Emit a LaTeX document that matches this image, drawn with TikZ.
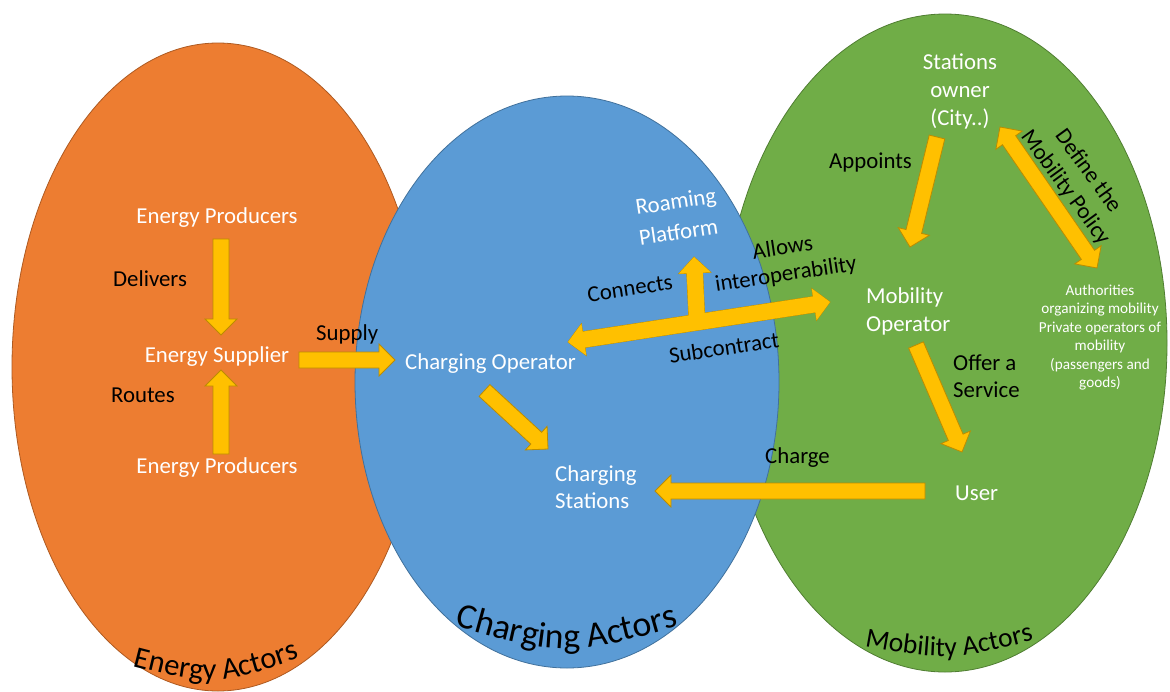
\documentclass[tikz,border=0pt]{standalone}
\usepackage{fontspec}
\setmainfont{Carlito}
\usetikzlibrary{calc,decorations.text}
\definecolor{eorange}{HTML}{ED7D31}
\definecolor{eorangeline}{HTML}{AE5A21}
\definecolor{cblue}{HTML}{5B9BD5}
\definecolor{cblueline}{HTML}{41719C}
\definecolor{mgreen}{HTML}{70AD47}
\definecolor{mgreenline}{HTML}{507E32}
\definecolor{afill}{HTML}{FFC000}
\definecolor{aline}{HTML}{BC8C00}
\newcommand{\mainsize}{\fontsize{22.8pt}{28pt}\selectfont}
\newcommand{\smallsize}{\fontsize{15.2pt}{18.5pt}\selectfont}
\newcommand{\eafont}{\fontsize{30.5pt}{30.5pt}\selectfont}
\newcommand{\cafont}{\fontsize{35.8pt}{35.8pt}\selectfont}
\newcommand{\mafont}{\fontsize{27.6pt}{27.6pt}\selectfont}
% single block arrow: [style]{name}{from}{to}
\newcommand{\sarr}[4][blockarrow]{%
  \coordinate (#2h) at ($(#4)!16pt!(#3)$);
  \path[#1] ($(#3)!8pt!90:(#4)$) -- ($(#2h)!8pt!-90:(#3)$) -- ($(#2h)!16pt!-90:(#3)$) -- (#4)
    -- ($(#2h)!16pt!90:(#3)$) -- ($(#2h)!8pt!90:(#3)$) -- ($(#3)!8pt!-90:(#4)$) -- cycle;}
% double block arrow: [style]{name}{from}{to}
\newcommand{\darr}[4][blockarrow]{%
  \coordinate (#2a) at ($(#3)!16pt!(#4)$);
  \coordinate (#2b) at ($(#4)!16pt!(#3)$);
  \path[#1] (#3) -- ($(#2a)!16pt!90:(#4)$) -- ($(#2a)!8pt!90:(#4)$) -- ($(#2b)!8pt!-90:(#3)$)
    -- ($(#2b)!16pt!-90:(#3)$) -- (#4) -- ($(#2b)!16pt!90:(#3)$) -- ($(#2b)!8pt!90:(#3)$)
    -- ($(#2a)!8pt!-90:(#4)$) -- ($(#2a)!16pt!-90:(#4)$) -- cycle;}
\begin{document}
\begin{tikzpicture}[x=1pt,y=-1pt,
  blockarrow/.style={fill=afill,draw=aline,line width=0.8pt,line join=miter},
  tedge/.style={fill=afill,draw=aline,line width=0.8pt,line join=miter},
  tinner/.style={fill=afill},
  wtext/.style={text=white,font=\mainsize,inner sep=0pt},
  btext/.style={text=black,font=\mainsize,inner sep=0pt},
  wsmall/.style={text=white,font=\smallsize,inner sep=0pt}]
\useasboundingbox (0,0) rectangle (1170,691);
\fill[white] (0,0) rectangle (1170,691);
% actor groups
\filldraw[fill=eorange,draw=eorangeline,line width=0.8pt] (218,367) ellipse [x radius=206, y radius=324];
\filldraw[fill=mgreen,draw=mgreenline,line width=0.8pt] (945,343) ellipse [x radius=222, y radius=329];
\filldraw[fill=cblue,draw=cblueline,line width=0.8pt] (567,382) ellipse [x radius=212, y radius=286];

% texts
\node[wtext, anchor=base] (ep1) at (217,223) {Energy Producers};
\node[btext, anchor=base west] (deliv) at (113,286) {Delivers};
\node[wtext, anchor=base] (esup) at (217,362) {Energy Supplier};
\node[btext, anchor=base west] (routes) at (111,402) {Routes};
\node[wtext, anchor=base] (ep2) at (217,473) {Energy Producers};
\node[btext, anchor=base west] (supply) at (316,340) {Supply};
\node[wtext, anchor=base west] (cop) at (405,369) {Charging Operator};
\node[wtext, anchor=base west] (cs1) at (555,481) {Charging};
\node[wtext, anchor=base west] (cs2) at (555,508) {Stations};
\node[wtext, rotate=8.6] (rp1) at (676,203) {Roaming};
\node[wtext, rotate=8.6] (rp2) at (678.5,231.5) {Platform};
\node[btext, rotate=8.6] (conn) at (630,288.5) {Connects};
\node[btext, rotate=8.6] (allow1) at (782.5,247) {Allows};
\node[btext, rotate=8.6] (allow2) at (786,275) {interoperability};
\node[btext, rotate=8.6] (subc) at (724,347.5) {Subcontract};
\node[wtext, anchor=base] (so1) at (960,69) {Stations};
\node[wtext, anchor=base] (so2) at (960,97) {owner};
\node[wtext, anchor=base] (so3) at (960,125) {(City..)};
\node[btext, anchor=base west] (appoints) at (829,168) {Appoints};
\node[wtext, anchor=base west] (mo1) at (866,303) {Mobility};
\node[wtext, anchor=base west] (mo2) at (866,331) {Operator};
\node[btext, anchor=base west] (offer1) at (953,370) {Offer a};
\node[btext, anchor=base west] (offer2) at (953,397) {Service};
\node[wtext, anchor=base west] (user) at (955,500) {User};
\node[btext, anchor=base west] (charge) at (765,463) {Charge};
\node[btext, rotate=-54, align=center] (def) at (1076.5,179.5) {Define the\\Mobility Policy};
\node[wsmall, anchor=base] (au1) at (1100,295) {Authorities};
\node[wsmall, anchor=base] (au2) at (1100,313.5) {organizing mobility};
\node[wsmall, anchor=base] (au3) at (1100,332) {Private operators of};
\node[wsmall, anchor=base] (au4) at (1100,350.5) {mobility};
\node[wsmall, anchor=base] (au5) at (1100,369) {(passengers and};
\node[wsmall, anchor=base] (au6) at (1100,387.5) {goods)};

% arrow end points
\coordinate (delS) at (221,239);  \coordinate (delE) at (221,335);
\coordinate (rouS) at (221,454);  \coordinate (rouE) at (221,370);
\coordinate (supS) at (299,360);  \coordinate (supE) at (395,360);
\coordinate (csS) at (484.5,390.5); \coordinate (csE) at (548,449);
\coordinate (appS) at (937,137);  \coordinate (appE) at (910,247);
\coordinate (offS) at (916,345);  \coordinate (offE) at (962,452);
\coordinate (chS) at (925,491);   \coordinate (chE) at (655,491);
\coordinate (defA) at (1000,127); \coordinate (defB) at (1097,268);
\coordinate (tL) at (568,342);    \coordinate (tR) at (830,302);
\coordinate (tJ) at (697,322.3);  \coordinate (tT) at (694,257);

% arrows
\sarr{ad}{delS}{delE}
\sarr{ar}{rouS}{rouE}
\sarr{as}{supS}{supE}
\sarr{ac}{csS}{csE}
\sarr{aa}{appS}{appE}
\sarr{ao}{offS}{offE}
\sarr{ach}{chS}{chE}
\darr{adf}{defA}{defB}
\sarr[tedge]{tbA}{tJ}{tT}
\darr[tedge]{tmA}{tL}{tR}
\sarr[tinner]{tbB}{tJ}{tT}
\darr[tinner]{tmB}{tL}{tR}

% group titles along the bottom arcs
\path[decorate, decoration={text along path, text={|\eafont|Energy Actors}, text align=center}]
  (110,660) .. controls (216,688) .. (322,650);
\path[decorate, decoration={text along path, text={|\cafont|Charging Actors}, text align=center}]
  (425,617) .. controls (567,659) .. (709,617);
\path[decorate, decoration={text along path, text={|\mafont|Mobility Actors}, text align=center}]
  (840,642) .. controls (949,662) .. (1058,634);
\end{tikzpicture}
\end{document}
